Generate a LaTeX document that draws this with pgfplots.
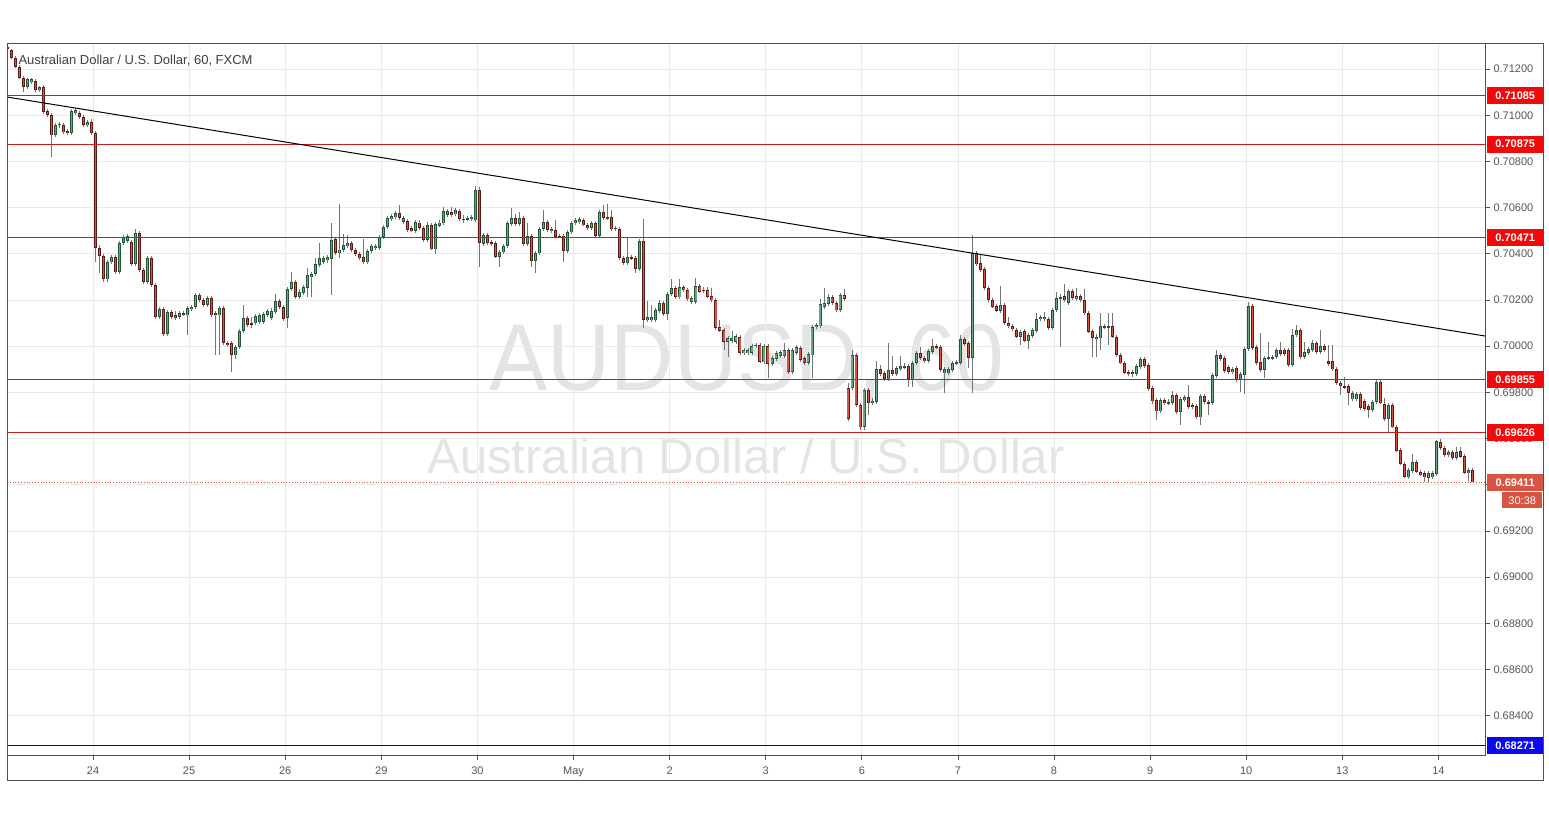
\documentclass[border=0pt]{standalone}
\usepackage{fontspec}
\setmainfont{Liberation Sans}
\usepackage{pgfplots}
\pgfplotsset{compat=1.18}
\usepackage{pgfplotstable}

\definecolor{upfill}{HTML}{6BA583}
\definecolor{upline}{HTML}{225437}
\definecolor{dnfill}{HTML}{D75442}
\definecolor{dnline}{HTML}{5B1A13}
\definecolor{wick}{HTML}{737375}
\definecolor{levelred}{RGB}{200,30,30}
\definecolor{boxred}{RGB}{240,10,10}
\definecolor{navyline}{RGB}{10,10,110}
\definecolor{boxblue}{RGB}{10,10,235}
\definecolor{gridc}{RGB}{234,234,234}
\definecolor{framec}{RGB}{80,80,80}
\definecolor{labelc}{RGB}{85,85,85}
\definecolor{wmark}{RGB}{228,228,228}

% AUD/USD hourly candles, index 0 = first bar of the 24th
\pgfplotstableread{
i o h l c
-22 0.71296 0.71304 0.71279 0.71287
-21 0.71283 0.71287 0.71244 0.71248
-20 0.71248 0.71257 0.71204 0.71209
-19 0.71209 0.71217 0.71157 0.71161
-18 0.71161 0.71170 0.71100 0.71123
-17 0.71123 0.71161 0.71114 0.71157
-16 0.71144 0.71161 0.71136 0.71157
-15 0.71149 0.71157 0.71100 0.71109
-14 0.71109 0.71127 0.71100 0.71123
-13 0.71123 0.71131 0.71006 0.71014
-12 0.71019 0.71027 0.70993 0.71001
-11 0.71001 0.71010 0.70820 0.70914
-10 0.70914 0.70966 0.70906 0.70957
-9 0.70957 0.70970 0.70944 0.70962
-8 0.70957 0.70966 0.70919 0.70927
-7 0.70932 0.70940 0.70914 0.70923
-6 0.70923 0.71027 0.70914 0.71019
-5 0.71010 0.71032 0.71001 0.71023
-4 0.71010 0.71019 0.70984 0.70993
-3 0.70993 0.71001 0.70949 0.70957
-2 0.70957 0.70979 0.70949 0.70970
-1 0.70970 0.70984 0.70914 0.70923
0 0.70923 0.70932 0.70364 0.70425
1 0.70425 0.70438 0.70317 0.70390
2 0.70390 0.70399 0.70278 0.70291
3 0.70291 0.70373 0.70278 0.70364
4 0.70364 0.70394 0.70356 0.70386
5 0.70386 0.70394 0.70313 0.70321
6 0.70321 0.70456 0.70313 0.70447
7 0.70447 0.70481 0.70438 0.70473
8 0.70456 0.70486 0.70447 0.70477
9 0.70451 0.70460 0.70347 0.70356
10 0.70356 0.70507 0.70347 0.70490
11 0.70490 0.70499 0.70321 0.70330
12 0.70330 0.70338 0.70270 0.70278
13 0.70278 0.70390 0.70270 0.70381
14 0.70381 0.70390 0.70257 0.70265
15 0.70265 0.70274 0.70118 0.70127
16 0.70127 0.70170 0.70118 0.70161
17 0.70161 0.70170 0.70044 0.70053
18 0.70053 0.70157 0.70044 0.70148
19 0.70148 0.70157 0.70118 0.70127
20 0.70135 0.70153 0.70113 0.70122
21 0.70127 0.70153 0.70118 0.70144
22 0.70144 0.70153 0.70131 0.70135
23 0.70135 0.70174 0.70048 0.70166
24 0.70161 0.70178 0.70153 0.70170
25 0.70170 0.70230 0.70161 0.70221
26 0.70221 0.70230 0.70191 0.70200
27 0.70200 0.70209 0.70170 0.70178
28 0.70178 0.70217 0.70170 0.70209
29 0.70209 0.70217 0.70127 0.70135
30 0.70144 0.70153 0.69962 0.70135
31 0.70135 0.70174 0.69962 0.70166
32 0.70166 0.70174 0.70005 0.70014
33 0.70014 0.70023 0.69997 0.70005
34 0.70014 0.70023 0.69888 0.69962
35 0.69962 0.70005 0.69945 0.69997
36 0.69997 0.70074 0.69988 0.70066
37 0.70066 0.70178 0.70057 0.70122
38 0.70122 0.70131 0.70083 0.70092
39 0.70100 0.70127 0.70079 0.70096
40 0.70100 0.70140 0.70092 0.70131
41 0.70105 0.70144 0.70096 0.70135
42 0.70105 0.70148 0.70096 0.70140
43 0.70135 0.70161 0.70127 0.70153
44 0.70122 0.70166 0.70113 0.70153
45 0.70148 0.70226 0.70140 0.70196
46 0.70196 0.70204 0.70161 0.70170
47 0.70170 0.70178 0.70109 0.70118
48 0.70122 0.70256 0.70079 0.70248
49 0.70248 0.70321 0.70239 0.70278
50 0.70278 0.70287 0.70204 0.70213
51 0.70213 0.70248 0.70204 0.70235
52 0.70230 0.70265 0.70221 0.70256
53 0.70252 0.70338 0.70213 0.70308
54 0.70299 0.70321 0.70213 0.70313
55 0.70313 0.70381 0.70304 0.70356
56 0.70351 0.70447 0.70343 0.70381
57 0.70364 0.70390 0.70356 0.70381
58 0.70373 0.70394 0.70360 0.70386
59 0.70377 0.70533 0.70221 0.70460
60 0.70464 0.70473 0.70394 0.70403
61 0.70403 0.70616 0.70381 0.70420
62 0.70416 0.70486 0.70407 0.70438
63 0.70434 0.70481 0.70425 0.70447
64 0.70447 0.70456 0.70407 0.70416
65 0.70416 0.70425 0.70390 0.70399
66 0.70399 0.70407 0.70373 0.70381
67 0.70386 0.70464 0.70356 0.70364
68 0.70364 0.70420 0.70356 0.70412
69 0.70412 0.70443 0.70403 0.70434
70 0.70425 0.70443 0.70416 0.70434
71 0.70425 0.70481 0.70416 0.70473
72 0.70473 0.70524 0.70464 0.70516
73 0.70516 0.70563 0.70507 0.70555
74 0.70551 0.70572 0.70542 0.70563
75 0.70559 0.70585 0.70551 0.70577
76 0.70577 0.70611 0.70546 0.70555
77 0.70537 0.70563 0.70529 0.70555
78 0.70542 0.70551 0.70494 0.70503
79 0.70512 0.70520 0.70494 0.70499
80 0.70499 0.70546 0.70490 0.70537
81 0.70537 0.70546 0.70503 0.70512
82 0.70512 0.70520 0.70451 0.70460
83 0.70460 0.70537 0.70451 0.70524
84 0.70524 0.70533 0.70416 0.70420
85 0.70420 0.70537 0.70399 0.70529
86 0.70524 0.70546 0.70516 0.70537
87 0.70533 0.70603 0.70524 0.70585
88 0.70568 0.70594 0.70559 0.70585
89 0.70581 0.70603 0.70559 0.70568
90 0.70572 0.70598 0.70563 0.70590
91 0.70585 0.70594 0.70542 0.70551
92 0.70551 0.70568 0.70533 0.70551
93 0.70551 0.70563 0.70542 0.70555
94 0.70551 0.70568 0.70542 0.70559
95 0.70546 0.70694 0.70537 0.70676
96 0.70676 0.70689 0.70343 0.70447
97 0.70443 0.70490 0.70434 0.70481
98 0.70481 0.70490 0.70438 0.70447
99 0.70447 0.70460 0.70434 0.70447
100 0.70447 0.70456 0.70381 0.70386
101 0.70386 0.70416 0.70343 0.70407
102 0.70407 0.70443 0.70399 0.70434
103 0.70434 0.70542 0.70425 0.70533
104 0.70529 0.70598 0.70520 0.70555
105 0.70555 0.70572 0.70520 0.70529
106 0.70529 0.70581 0.70520 0.70555
107 0.70555 0.70563 0.70434 0.70443
108 0.70443 0.70533 0.70434 0.70477
109 0.70477 0.70486 0.70343 0.70369
110 0.70369 0.70412 0.70317 0.70403
111 0.70403 0.70516 0.70394 0.70507
112 0.70507 0.70590 0.70499 0.70537
113 0.70537 0.70546 0.70494 0.70503
114 0.70499 0.70516 0.70490 0.70507
115 0.70503 0.70546 0.70468 0.70473
116 0.70477 0.70486 0.70468 0.70473
117 0.70477 0.70486 0.70364 0.70412
118 0.70412 0.70503 0.70403 0.70494
119 0.70494 0.70542 0.70486 0.70533
120 0.70533 0.70555 0.70524 0.70546
121 0.70537 0.70559 0.70529 0.70551
122 0.70546 0.70555 0.70520 0.70524
123 0.70524 0.70533 0.70503 0.70512
124 0.70512 0.70542 0.70503 0.70533
125 0.70533 0.70542 0.70468 0.70477
126 0.70477 0.70590 0.70468 0.70581
127 0.70581 0.70611 0.70546 0.70555
128 0.70555 0.70616 0.70546 0.70559
129 0.70559 0.70590 0.70499 0.70507
130 0.70512 0.70520 0.70499 0.70507
131 0.70507 0.70516 0.70373 0.70381
132 0.70381 0.70390 0.70351 0.70360
133 0.70360 0.70468 0.70351 0.70386
134 0.70386 0.70394 0.70373 0.70381
135 0.70381 0.70390 0.70317 0.70334
136 0.70334 0.70464 0.70326 0.70456
137 0.70456 0.70551 0.70079 0.70113
138 0.70113 0.70196 0.70105 0.70127
139 0.70113 0.70178 0.70105 0.70127
140 0.70113 0.70166 0.70105 0.70157
141 0.70153 0.70200 0.70144 0.70187
142 0.70187 0.70196 0.70131 0.70140
143 0.70140 0.70235 0.70113 0.70226
144 0.70226 0.70291 0.70217 0.70252
145 0.70252 0.70261 0.70204 0.70213
146 0.70213 0.70291 0.70204 0.70256
147 0.70256 0.70265 0.70235 0.70243
148 0.70243 0.70252 0.70196 0.70204
149 0.70191 0.70217 0.70183 0.70209
150 0.70191 0.70295 0.70183 0.70261
151 0.70261 0.70270 0.70230 0.70235
152 0.70243 0.70256 0.70230 0.70243
153 0.70243 0.70256 0.70209 0.70213
154 0.70217 0.70252 0.70191 0.70200
155 0.70200 0.70209 0.70070 0.70079
156 0.70083 0.70113 0.70062 0.70066
157 0.70070 0.70079 0.69984 0.70018
158 0.70018 0.70044 0.69953 0.70035
159 0.70023 0.70066 0.70014 0.70035
160 0.70018 0.70053 0.70010 0.70044
161 0.70040 0.70048 0.69962 0.69971
162 0.69971 0.69992 0.69962 0.69984
163 0.69971 0.69992 0.69962 0.69984
164 0.69971 0.70010 0.69962 0.70001
165 0.70001 0.70014 0.69992 0.70005
166 0.70005 0.70014 0.69927 0.69931
167 0.69931 0.70010 0.69923 0.70001
168 0.70001 0.70010 0.69862 0.69923
169 0.69923 0.69958 0.69914 0.69949
170 0.69945 0.69979 0.69936 0.69971
171 0.69958 0.69984 0.69949 0.69975
172 0.69958 0.70014 0.69949 0.69984
173 0.69984 0.69992 0.69880 0.69888
174 0.69888 0.69992 0.69880 0.69984
175 0.69971 0.70005 0.69962 0.69997
176 0.69992 0.70001 0.69931 0.69940
177 0.69949 0.69958 0.69918 0.69927
178 0.69927 0.69975 0.69918 0.69966
179 0.69962 0.70092 0.69862 0.70083
180 0.70083 0.70100 0.70074 0.70092
181 0.70087 0.70204 0.70079 0.70183
182 0.70170 0.70252 0.70161 0.70187
183 0.70183 0.70226 0.70174 0.70213
184 0.70213 0.70221 0.70178 0.70187
185 0.70187 0.70196 0.70148 0.70157
186 0.70157 0.70230 0.70148 0.70221
187 0.70221 0.70248 0.70196 0.70204
188 0.69818 0.69840 0.69676 0.69685
189 0.69818 0.69984 0.69810 0.69962
190 0.69962 0.69971 0.69737 0.69745
191 0.69745 0.69754 0.69637 0.69650
192 0.69650 0.69818 0.69637 0.69810
193 0.69810 0.69818 0.69702 0.69754
194 0.69754 0.69775 0.69745 0.69762
195 0.69758 0.69936 0.69750 0.69901
196 0.69901 0.69918 0.69871 0.69880
197 0.69884 0.69893 0.69849 0.69858
198 0.69858 0.70014 0.69849 0.69897
199 0.69897 0.69958 0.69871 0.69880
200 0.69880 0.69914 0.69871 0.69906
201 0.69901 0.69958 0.69893 0.69914
202 0.69910 0.69927 0.69901 0.69914
203 0.69914 0.69923 0.69823 0.69858
204 0.69858 0.69936 0.69823 0.69927
205 0.69927 0.69979 0.69918 0.69971
206 0.69971 0.69997 0.69940 0.69949
207 0.69949 0.69958 0.69927 0.69936
208 0.69936 0.69988 0.69927 0.69979
209 0.69975 0.70031 0.69966 0.70001
210 0.70001 0.70010 0.69988 0.69997
211 0.69997 0.70005 0.69888 0.69897
212 0.69884 0.69910 0.69797 0.69901
213 0.69884 0.69910 0.69875 0.69901
214 0.69897 0.69936 0.69888 0.69927
215 0.69927 0.69940 0.69918 0.69931
216 0.69927 0.70048 0.69918 0.70031
217 0.70031 0.70040 0.70001 0.70010
218 0.70014 0.70023 0.69906 0.69949
219 0.69949 0.70481 0.69797 0.70403
220 0.70403 0.70412 0.70347 0.70356
221 0.70360 0.70394 0.70321 0.70330
222 0.70334 0.70343 0.70243 0.70252
223 0.70252 0.70261 0.70191 0.70200
224 0.70200 0.70209 0.70166 0.70170
225 0.70174 0.70183 0.70148 0.70153
226 0.70153 0.70261 0.70144 0.70178
227 0.70178 0.70187 0.70092 0.70100
228 0.70100 0.70127 0.70079 0.70087
229 0.70087 0.70096 0.70066 0.70074
230 0.70070 0.70079 0.70035 0.70040
231 0.70040 0.70070 0.70005 0.70062
232 0.70066 0.70074 0.70018 0.70023
233 0.70023 0.70057 0.69988 0.70048
234 0.70044 0.70079 0.70035 0.70070
235 0.70066 0.70144 0.70057 0.70118
236 0.70118 0.70135 0.70109 0.70127
237 0.70118 0.70148 0.70109 0.70127
238 0.70118 0.70127 0.70070 0.70079
239 0.70079 0.70166 0.70070 0.70157
240 0.70157 0.70235 0.70148 0.70209
241 0.70209 0.70226 0.69997 0.70213
242 0.70217 0.70270 0.70191 0.70200
243 0.70187 0.70248 0.70178 0.70239
244 0.70239 0.70248 0.70200 0.70209
245 0.70204 0.70252 0.70196 0.70217
246 0.70217 0.70226 0.70191 0.70200
247 0.70200 0.70248 0.70135 0.70144
248 0.70144 0.70153 0.70057 0.70062
249 0.70066 0.70074 0.69953 0.70035
250 0.70031 0.70053 0.69953 0.70040
251 0.70035 0.70144 0.69984 0.70087
252 0.70083 0.70096 0.70074 0.70087
253 0.70083 0.70144 0.70005 0.70087
254 0.70087 0.70144 0.70035 0.70040
255 0.70040 0.70048 0.69953 0.69962
256 0.69962 0.69971 0.69923 0.69927
257 0.69927 0.69936 0.69880 0.69884
258 0.69888 0.69897 0.69871 0.69880
259 0.69888 0.69897 0.69867 0.69880
260 0.69880 0.69923 0.69871 0.69914
261 0.69910 0.69953 0.69901 0.69945
262 0.69945 0.69953 0.69906 0.69914
263 0.69918 0.69927 0.69806 0.69814
264 0.69818 0.69827 0.69750 0.69762
265 0.69767 0.69775 0.69680 0.69719
266 0.69719 0.69775 0.69711 0.69767
267 0.69767 0.69775 0.69745 0.69754
268 0.69754 0.69771 0.69745 0.69758
269 0.69754 0.69806 0.69745 0.69788
270 0.69788 0.69797 0.69707 0.69715
271 0.69715 0.69780 0.69659 0.69771
272 0.69767 0.69788 0.69758 0.69780
273 0.69780 0.69832 0.69728 0.69737
274 0.69745 0.69754 0.69728 0.69737
275 0.69741 0.69750 0.69685 0.69693
276 0.69693 0.69793 0.69659 0.69784
277 0.69784 0.69793 0.69750 0.69758
278 0.69758 0.69767 0.69702 0.69754
279 0.69754 0.69884 0.69745 0.69875
280 0.69871 0.69984 0.69862 0.69962
281 0.69962 0.69971 0.69936 0.69945
282 0.69949 0.69958 0.69884 0.69893
283 0.69910 0.69918 0.69880 0.69888
284 0.69888 0.69910 0.69880 0.69901
285 0.69906 0.69914 0.69845 0.69854
286 0.69854 0.69888 0.69801 0.69880
287 0.69875 0.69997 0.69793 0.69988
288 0.69988 0.70191 0.69979 0.70174
289 0.70174 0.70183 0.69984 0.69992
290 0.69997 0.70005 0.69918 0.69927
291 0.69931 0.70057 0.69888 0.69897
292 0.69897 0.69958 0.69862 0.69949
293 0.69949 0.70018 0.69940 0.69953
294 0.69949 0.69962 0.69940 0.69953
295 0.69953 0.69992 0.69945 0.69984
296 0.69984 0.70018 0.69958 0.69966
297 0.69984 0.69992 0.69958 0.69966
298 0.69984 0.69992 0.69910 0.69918
299 0.69918 0.70074 0.69910 0.70048
300 0.70048 0.70092 0.70040 0.70070
301 0.70070 0.70079 0.69945 0.69953
302 0.69953 0.70018 0.69945 0.69975
303 0.69971 0.69997 0.69962 0.69988
304 0.69984 0.70027 0.69975 0.70014
305 0.70014 0.70023 0.69966 0.69975
306 0.69975 0.70070 0.69966 0.70001
307 0.70001 0.70010 0.69975 0.69984
308 0.69936 0.70005 0.69914 0.69923
309 0.69936 0.70005 0.69893 0.69901
310 0.69901 0.69910 0.69832 0.69840
311 0.69840 0.69849 0.69788 0.69827
312 0.69827 0.69867 0.69814 0.69823
313 0.69827 0.69836 0.69745 0.69797
314 0.69771 0.69806 0.69762 0.69797
315 0.69771 0.69801 0.69762 0.69793
316 0.69793 0.69801 0.69724 0.69732
317 0.69762 0.69771 0.69719 0.69728
318 0.69741 0.69750 0.69689 0.69724
319 0.69724 0.69767 0.69715 0.69758
320 0.69758 0.69854 0.69750 0.69845
321 0.69845 0.69854 0.69750 0.69754
322 0.69750 0.69775 0.69676 0.69685
323 0.69685 0.69754 0.69624 0.69745
324 0.69745 0.69754 0.69646 0.69650
325 0.69650 0.69659 0.69542 0.69546
326 0.69550 0.69559 0.69485 0.69490
327 0.69490 0.69499 0.69429 0.69433
328 0.69433 0.69472 0.69425 0.69464
329 0.69460 0.69533 0.69451 0.69499
330 0.69499 0.69507 0.69451 0.69455
331 0.69455 0.69464 0.69438 0.69442
332 0.69451 0.69460 0.69412 0.69433
333 0.69429 0.69460 0.69412 0.69451
334 0.69433 0.69460 0.69425 0.69451
335 0.69446 0.69594 0.69438 0.69590
336 0.69585 0.69598 0.69550 0.69559
337 0.69559 0.69568 0.69520 0.69529
338 0.69529 0.69550 0.69520 0.69542
339 0.69542 0.69550 0.69507 0.69516
340 0.69516 0.69563 0.69507 0.69542
341 0.69546 0.69563 0.69516 0.69520
342 0.69524 0.69533 0.69446 0.69451
343 0.69451 0.69472 0.69416 0.69464
344 0.69464 0.69472 0.69411 0.69411
}\candles

\newcommand{\lab}{\fontsize{11bp}{13bp}\selectfont}

\begin{document}
\begin{tikzpicture}
\fill[white] (0,0) rectangle (1549bp,819bp);
% watermark
\node[text=wmark, font=\fontsize{95bp}{95bp}\selectfont, xscale=0.92] at (747bp,456bp) {AUDUSD, 60};
\node[text=wmark, font=\fontsize{49bp}{49bp}\selectfont] at (746bp,363bp) {Australian Dollar / U.S. Dollar};

\begin{axis}[
  at={(7bp,64bp)}, anchor=south west,
  scale only axis, width=1478bp, height=711bp,
  xmin=-22.05, xmax=347.07, ymin=0.682299, ymax=0.713085,
  clip mode=individual,
  axis line style={draw=framec, line width=1bp},
  xtick={-0.57,23.43,47.43,71.43,95.43,119.43,143.43,167.43,191.43,215.43,239.43,263.43,287.43,311.43,335.43},
  xticklabels={24,25,26,29,30,May,2,3,6,7,8,9,10,13,14},
  ytick={0.684,0.686,0.688,0.690,0.692,0.694,0.696,0.698,0.700,0.702,0.704,0.706,0.708,0.710,0.712},
  xtick pos=left, ytick pos=right, yticklabel pos=right,
  tick align=outside, major tick length=5bp,
  tick style={draw=framec, line width=0.8bp},
  grid=major, grid style={draw=gridc, line width=0.8bp},
  scaled y ticks=false,
  /pgf/number format/assume math mode=true,
  yticklabel style={/pgf/number format/.cd, fixed, fixed zerofill, precision=5, /tikz/.cd, font=\lab, text=labelc},
  xticklabel style={font=\lab, text=labelc, yshift=-3bp},
]
% wicks
\addplot[draw=none, mark=none, error bars/.cd, y dir=plus, y explicit, error mark=none,
  error bar style={draw=wick, line width=0.9bp}]
  table[x=i, y=l, y error expr={\thisrow{h}-\thisrow{l}}] {\candles};
% up bodies
\addplot[draw=none, mark=none, restrict expr to domain={\thisrow{c}-\thisrow{o}}{0:1},
  error bars/.cd, y dir=both, y explicit, error mark=none,
  error bar style={draw=upline, line width=3bp}]
  table[x=i, y expr={(\thisrow{o}+\thisrow{c})/2}, y error expr={max(abs(\thisrow{c}-\thisrow{o})/2,0.000022)}] {\candles};
\addplot[draw=none, mark=none, restrict expr to domain={\thisrow{c}-\thisrow{o}}{0:1},
  error bars/.cd, y dir=both, y explicit, error mark=none,
  error bar style={draw=upfill, line width=1.2bp}]
  table[x=i, y expr={(\thisrow{o}+\thisrow{c})/2}, y error expr={max(abs(\thisrow{c}-\thisrow{o})/2-0.000035,0)}] {\candles};
% down bodies
\addplot[draw=none, mark=none, restrict expr to domain={\thisrow{c}-\thisrow{o}}{-1:0},
  error bars/.cd, y dir=both, y explicit, error mark=none,
  error bar style={draw=dnline, line width=3bp}]
  table[x=i, y expr={(\thisrow{o}+\thisrow{c})/2}, y error expr={max(abs(\thisrow{c}-\thisrow{o})/2,0.000022)}] {\candles};
\addplot[draw=none, mark=none, restrict expr to domain={\thisrow{c}-\thisrow{o}}{-1:0},
  error bars/.cd, y dir=both, y explicit, error mark=none,
  error bar style={draw=dnfill, line width=1.2bp}]
  table[x=i, y expr={(\thisrow{o}+\thisrow{c})/2}, y error expr={max(abs(\thisrow{c}-\thisrow{o})/2-0.000035,0)}] {\candles};

% horizontal levels
\addplot[levelred, line width=1.1bp] coordinates {(-22.05,0.71085) (347.07,0.71085)};
\addplot[levelred, line width=1.1bp] coordinates {(-22.05,0.70875) (347.07,0.70875)};
\addplot[levelred, line width=1.1bp] coordinates {(-22.05,0.70471) (347.07,0.70471)};
\addplot[levelred, line width=1.1bp] coordinates {(-22.05,0.69855) (347.07,0.69855)};
\addplot[levelred, line width=1.1bp] coordinates {(-22.05,0.69626) (347.07,0.69626)};
\addplot[navyline, line width=1.1bp] coordinates {(-22.05,0.68271) (347.07,0.68271)};
\addplot[dnfill, dotted, line width=0.8bp] coordinates {(-22.05,0.69411) (347.07,0.69411)};
% trend line
\addplot[black, line width=1bp] coordinates {(-22.05,0.71079) (347.07,0.70044)};

% price labels
\tikzset{pricebox/.style={anchor=west, minimum width=56bp, minimum height=17bp, inner sep=0pt, text=white, font=\bfseries\lab}}
\node[pricebox, fill=boxred] at ([xshift=2bp]axis cs:347.07,0.71085) {0.71085};
\node[pricebox, fill=boxred] at ([xshift=2bp]axis cs:347.07,0.70875) {0.70875};
\node[pricebox, fill=boxred] at ([xshift=2bp]axis cs:347.07,0.70471) {0.70471};
\node[pricebox, fill=boxred] at ([xshift=2bp]axis cs:347.07,0.69855) {0.69855};
\node[pricebox, fill=boxred] at ([xshift=2bp]axis cs:347.07,0.69626) {0.69626};
\node[pricebox, fill=dnfill] at ([xshift=2bp]axis cs:347.07,0.69411) {0.69411};
\node[pricebox, fill=boxblue] at ([xshift=2bp]axis cs:347.07,0.68271) {0.68271};
\node[anchor=west, minimum width=40bp, minimum height=16bp, inner sep=0pt, text=white, font=\lab, fill=dnfill]
  at ([xshift=17bp,yshift=-18bp]axis cs:347.07,0.69411) {30:38};

% title
\node[anchor=west, text=black!75, font=\fontsize{13bp}{15bp}\selectfont]
  at ([xshift=8bp,yshift=-17bp]rel axis cs:0,1) {Australian Dollar / U.S. Dollar, 60, FXCM};
\end{axis}

\draw[framec, line width=1bp] (7bp,38bp) rectangle (1543bp,775bp);
\pgfresetboundingbox
\useasboundingbox (0,0) rectangle (1549bp,819bp);
\end{tikzpicture}
\end{document}
